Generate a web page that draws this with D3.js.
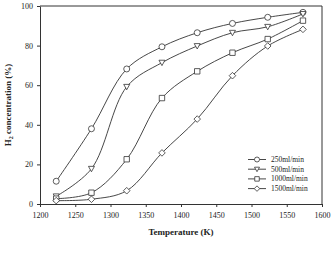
<!DOCTYPE html>
<html>
<head>
<meta charset="utf-8">
<script src="https://d3js.org/d3.v7.min.js"></script>
<style>
  body { margin: 0; background: #fff; }
  svg { display: block; }
  text { font-family: "Liberation Serif", "DejaVu Serif", serif; fill: #222; }
</style>
</head>
<body>
<div id="chart"></div>
<script>
// Data ----------------------------------------------------------------------->

const temps = [1223, 1273, 1323, 1373, 1423, 1473, 1523, 1573];
const h2_250  = [11.5, 38.0, 68.2, 79.4, 86.5, 91.2, 94.3, 96.8];
const h2_500  = [3.9, 17.8, 59.2, 71.4, 79.8, 86.5, 89.5, 96.0];
const h2_1000 = [2.7, 5.7, 22.6, 53.5, 67.0, 76.4, 83.3, 92.6];
const h2_1500 = [1.7, 2.4, 6.7, 25.8, 42.9, 64.8, 79.8, 88.2];

const series_names = ['250ml/min', '500ml/min', '1000ml/min', '1500ml/min'];
const series_vals = [h2_250, h2_500, h2_1000, h2_1500];
const series_marks = ['circle', 'triangle', 'square', 'diamond'];

const x_ticks = [1200, 1250, 1300, 1350, 1400, 1450, 1500, 1550, 1600];
const y_ticks = [0, 20, 40, 60, 80, 100];

// Setup ---------------------------------------------------------------------->

const width = 331, height = 253;
const margin = {left: 40, right: 9, top: 6, bottom: 49};

const svg = d3.select('#chart')
  .append('svg')
    .attr('width', width)
    .attr('height', height);

const x = d3.scaleLinear().domain([1200, 1600])
  .range([margin.left, width - margin.right]);
const y = d3.scaleLinear().domain([0, 100])
  .range([height - margin.bottom, margin.top]);

// Frame (top and right edges)
svg.append('path')
  .attr('d', `M${x(1200)},${y(100)}H${x(1600)}V${y(0)}`)
  .attr('fill', 'none')
  .attr('stroke', '#333')
  .attr('stroke-width', 1);

// Axes
const x_axis = svg.append('g')
  .attr('transform', `translate(0,${y(0)})`)
  .call(d3.axisBottom(x).tickValues(x_ticks).tickFormat(d3.format('d'))
    .tickSize(3).tickPadding(5).tickSizeOuter(0));
const y_axis = svg.append('g')
  .attr('transform', `translate(${x(1200)},0)`)
  .call(d3.axisLeft(y).tickValues(y_ticks).tickFormat(d3.format('d'))
    .tickSize(3).tickPadding(4).tickSizeOuter(0));

[x_axis, y_axis].forEach(ax => {
  ax.select('.domain').attr('stroke', '#333');
  ax.selectAll('.tick line').attr('stroke', '#333');
  ax.selectAll('.tick text')
    .style('font-family', '"Liberation Serif", "DejaVu Serif", serif')
    .style('font-size', '8px')
    .attr('fill', '#333');
});

// Axis titles
svg.append('text')
  .attr('x', (x(1200) + x(1600)) / 2)
  .attr('y', 235)
  .attr('text-anchor', 'middle')
  .style('font-size', '9px')
  .style('font-weight', 'bold')
  .text('Temperature (K)');

const y_title = svg.append('text')
  .attr('transform', `translate(11,${(y(0) + y(100)) / 2}) rotate(-90)`)
  .attr('text-anchor', 'middle')
  .style('font-size', '9px')
  .style('font-weight', 'bold');
y_title.append('tspan').text('H');
y_title.append('tspan').attr('dy', 2).style('font-size', '6px').text('2');
y_title.append('tspan').attr('dy', -2).text(' concentration (%)');

// Markers
function marker_path(type, cx, cy, r) {
  if (type == 'triangle') return `M${cx - r},${cy - r * 0.8}L${cx + r},${cy - r * 0.8}L${cx},${cy + r}Z`;
  if (type == 'square') return `M${cx - r * 0.9},${cy - r * 0.9}h${r * 1.8}v${r * 1.8}h${-r * 1.8}Z`;
  return `M${cx},${cy - r * 1.1}L${cx + r * 1.1},${cy}L${cx},${cy + r * 1.1}L${cx - r * 1.1},${cy}Z`;
}

function draw_marker(g, type, cx, cy, r) {
  if (type == 'circle') {
    g.append('circle')
      .attr('cx', cx).attr('cy', cy).attr('r', r)
      .attr('fill', '#fff').attr('stroke', '#333').attr('stroke-width', 0.8);
  } else {
    g.append('path')
      .attr('d', marker_path(type, cx, cy, r))
      .attr('fill', '#fff').attr('stroke', '#333').attr('stroke-width', 0.8);
  }
}

// Lines and points
const line = d3.line()
  .x(d => x(d[0]))
  .y(d => y(d[1]))
  .curve(d3.curveCatmullRom.alpha(0.5));

series_vals.forEach((vals, i) => {
  const pts = temps.map((t, j) => [t, vals[j]]);
  svg.append('path')
    .datum(pts)
    .attr('d', line)
    .attr('fill', 'none')
    .attr('stroke', '#333')
    .attr('stroke-width', 0.9);
  const g = svg.append('g');
  pts.forEach(p => draw_marker(g, series_marks[i], x(p[0]), y(p[1]), 3));
});

// Legend
const legend = svg.append('g');
series_names.forEach((name, i) => {
  const ly = 159.5 + i * 9.7;
  legend.append('line')
    .attr('x1', 248).attr('x2', 266)
    .attr('y1', ly).attr('y2', ly)
    .attr('stroke', '#333').attr('stroke-width', 0.9);
  draw_marker(legend, series_marks[i], 257, ly, 2.5);
  legend.append('text')
    .attr('x', 271).attr('y', ly + 2.5)
    .style('font-size', '7.5px')
    .attr('fill', '#333')
    .text(name);
});
</script>
</body>
</html>
